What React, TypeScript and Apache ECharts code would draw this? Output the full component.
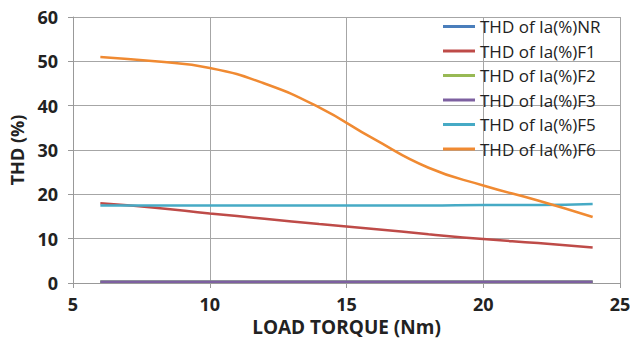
import React, { useEffect, useRef } from "react";
import * as echarts from "echarts";

const loadTorque = [6, 8, 10, 12, 14, 16, 18, 20, 22, 24];
const thdNR = [0.3, 0.3, 0.3, 0.3, 0.3, 0.3, 0.3, 0.3, 0.3, 0.3];
const thdF1 = [18, 17, 15.7, 14.5, 13.3, 12.2, 11, 9.9, 9, 8];
const thdF2 = [0.3, 0.3, 0.3, 0.3, 0.3, 0.3, 0.3, 0.3, 0.3, 0.3];
const thdF3 = [0.3, 0.3, 0.3, 0.3, 0.3, 0.3, 0.3, 0.3, 0.3, 0.3];
const thdF5 = [17.5, 17.5, 17.5, 17.5, 17.5, 17.5, 17.5, 17.6, 17.6, 17.8];
const thdF6 = [51, 50, 48.5, 45, 39.6, 32.5, 26, 22, 18.6, 14.9];

const seriesNames = [
  "THD of Ia(%)NR",
  "THD of Ia(%)F1",
  "THD of Ia(%)F2",
  "THD of Ia(%)F3",
  "THD of Ia(%)F5",
  "THD of Ia(%)F6",
];
const seriesColors = ["#4A7EBB", "#BE4B48", "#98B954", "#7D60A0", "#46AAC5", "#F08A32"];
const seriesData = [thdNR, thdF1, thdF2, thdF3, thdF5, thdF6];

export default function App() {
  const ref = useRef<HTMLDivElement>(null);
  useEffect(() => {
    const chart = echarts.init(ref.current!, null, { renderer: "svg" });
    const font = "'Open Sans', sans-serif";
    chart.setOption({
      animation: false,
      backgroundColor: "#ffffff",
      grid: { left: 73, right: 10, top: 17, bottom: 56, containLabel: false, outerBoundsMode: "none" },
      legend: {
        orient: "vertical",
        left: 443,
        top: 18,
        padding: 0,
        itemWidth: 32,
        itemHeight: 3,
        itemGap: 7.5,
        icon: "rect",
        data: seriesNames,
        textStyle: { fontFamily: font, fontSize: 17, color: "#222" },
      },
      xAxis: {
        type: "value",
        min: 5,
        max: 25,
        interval: 5,
        name: "LOAD TORQUE (Nm)",
        nameLocation: "middle",
        nameGap: 31,
        nameTextStyle: { fontFamily: font, fontSize: 19, lineHeight: 19, fontWeight: "bold", color: "#222" },
        axisLine: { show: true, lineStyle: { color: "#999" } },
        axisTick: { show: true, length: 5, lineStyle: { color: "#999" } },
        axisLabel: { margin: 12, fontFamily: font, fontSize: 18, fontWeight: "bold", color: "#222" },
        splitLine: { show: true, lineStyle: { color: "#a6a6a6", width: 1 } },
      },
      yAxis: {
        type: "value",
        min: 0,
        max: 60,
        interval: 10,
        name: "THD (%)",
        nameLocation: "middle",
        nameGap: 47,
        nameRotate: 90,
        nameTextStyle: { fontFamily: font, fontSize: 18, fontWeight: "bold", color: "#222" },
        axisLine: { show: true, lineStyle: { color: "#999" } },
        axisTick: { show: true, length: 5, lineStyle: { color: "#999" } },
        axisLabel: { margin: 15, fontFamily: font, fontSize: 18, fontWeight: "bold", color: "#222" },
        splitLine: { show: true, lineStyle: { color: "#a6a6a6", width: 1 } },
      },
      series: seriesNames.map((name, i) => ({
        name,
        type: "line",
        smooth: true,
        showSymbol: false,
        symbol: "none",
        color: seriesColors[i],
        lineStyle: { width: 2.5, color: seriesColors[i] },
        data: loadTorque.map((x, j) => [x, seriesData[i][j]]),
      })),
    });
    return () => chart.dispose();
  }, []);
  return <div ref={ref} style={{ width: 630, height: 339, position: "absolute", left: 0, top: 0 }} />;
}
